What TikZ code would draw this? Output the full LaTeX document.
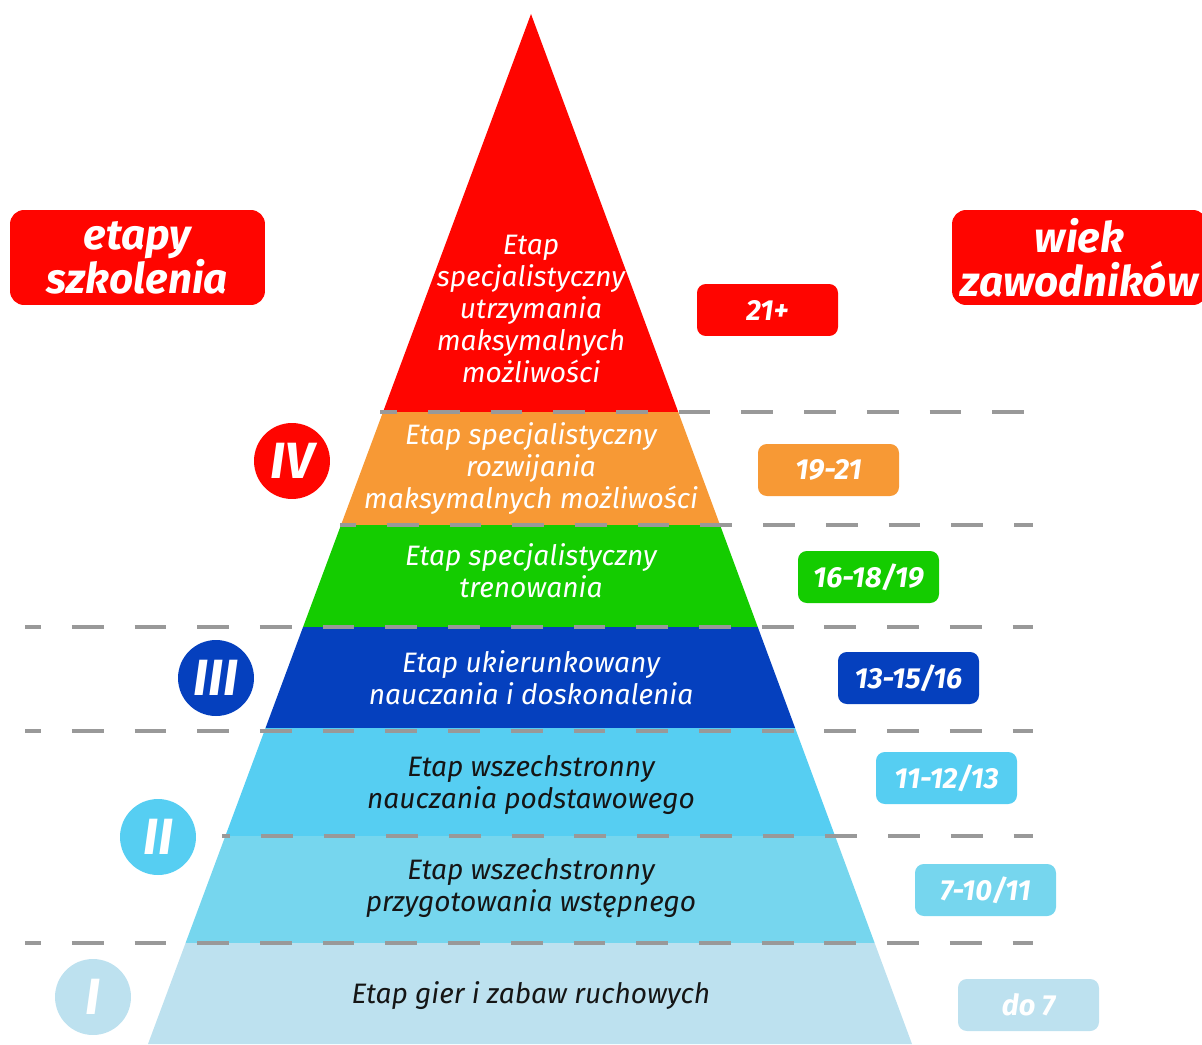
\documentclass[tikz,border=0pt]{standalone}
\usepackage{fontspec}
\setmainfont{Fira Sans}
\usepackage{xcolor}
\usetikzlibrary{positioning}
\definecolor{StageRed}{HTML}{FF0500}
\definecolor{StageOrange}{HTML}{F79935}
\definecolor{StageGreen}{HTML}{14CC00}
\definecolor{StageNavy}{HTML}{0540BE}
\definecolor{StageSky}{HTML}{56CEF2}
\definecolor{StageAqua}{HTML}{76D6EE}
\definecolor{StagePale}{HTML}{BDE1EF}
\definecolor{SepGray}{HTML}{999999}
\definecolor{InkDark}{HTML}{151515}
\tikzset{
  sepline/.style={draw=SepGray, line width=2.8pt, dash pattern=on 18.1pt off 17.6pt},
  bandtext/.style={align=center, inner sep=0pt, font=\fontsize{16}{18.2}\selectfont\itshape},
  agebox/.style={rounded corners=5pt, minimum width=2.82cm, minimum height=1.04cm,
    inner sep=0pt, text=white, font=\fontsize{16.5}{18}\selectfont\bfseries\itshape},
  headbox/.style={fill=StageRed, rounded corners=8pt, minimum width=5.1cm, minimum height=1.9cm,
    align=center, text=white, font=\fontsize{24}{25}\selectfont\bfseries\itshape}
}

\begin{document}
\begin{tikzpicture}[
  x=0.02cm, y=-0.02cm,
  stagemark/.style={circle, minimum size=1.52cm, inner sep=0pt, text=white,
    font=\fontsize{29}{30}\selectfont\bfseries\itshape}
]
\useasboundingbox (0,0) rectangle (1202,1044);

\coordinate (apex) at (531,14);
\coordinate (baseL) at (148,1044);
\coordinate (baseR) at (912,1044);

\begin{scope}
  \clip (apex) -- (baseL) -- (baseR) -- cycle;
  \foreach \ytop/\ybot/\col in {0/412/StageRed, 412/525/StageOrange, 525/627/StageGreen,
      627/728/StageNavy, 728/836/StageSky, 836/943/StageAqua, 943/1050/StagePale}
    \fill[\col] (100,\ytop) rectangle (1000,\ybot);
\end{scope}

% separators, dashes kept on one grid
\foreach \y/\xa/\xs in {412/380/365, 525/340/324, 627/25/9, 731/25/9, 836/222/198, 943/25/9}{
  \pgfmathsetmacro\ph{(\xa-\xs)*0.5669}
  \draw[sepline, dash phase=\ph pt] (\xa,\y) -- (1033,\y);
}

\node[bandtext, text=white] (stage7) at (531,309)
  {Etap\\specjalistyczny\\utrzymania\\maksymalnych\\możliwości};
\node[bandtext, text=white] (stage6) at (531,469)
  {Etap specjalistyczny\\rozwijania\\maksymalnych możliwości};
\node[bandtext, text=white] (stage5) at (531,571) {Etap specjalistyczny\\trenowania};
\node[bandtext, text=white] (stage4) at (531,678) {Etap ukierunkowany\\nauczania i doskonalenia};
\node[bandtext, text=InkDark] (stage3) at (531,785) {Etap wszechstronny\\nauczania podstawowego};
\node[bandtext, text=InkDark] (stage2) at (531,888) {Etap wszechstronny\\przygotowania wstępnego};
\node[bandtext, text=InkDark] (stage1) at (531,996) {Etap gier i zabaw ruchowych};

\node[headbox] (stagehead) at (137.5,257.5) {etapy\\szkolenia};
\node[headbox] (agehead) at (1079.5,257.5) {wiek\\zawodników};

\node[stagemark, fill=StageRed] (markIV) at (292,461) {IV};
\node[stagemark, fill=StageNavy] (markIII) at (216,678) {III};
\node[stagemark, fill=StageSky] (markII) at (158,837) {II};
\node[stagemark, fill=StagePale] (markI) at (93,997) {I};

\node[agebox, fill=StageRed] (age7) at (767.5,310) {21+};
\node[agebox, fill=StageOrange] (age6) at (828.5,470) {19-21};
\node[agebox, fill=StageGreen] (age5) at (868.5,577) {16-18/19};
\node[agebox, fill=StageNavy] (age4) at (908.5,678) {13-15/16};
\node[agebox, fill=StageSky] (age3) at (946.5,778) {11-12/13};
\node[agebox, fill=StageAqua] (age2) at (985.5,890) {7-10/11};
\node[agebox, fill=StagePale] (age1) at (1028.5,1005) {do 7};
\end{tikzpicture}
\end{document}
